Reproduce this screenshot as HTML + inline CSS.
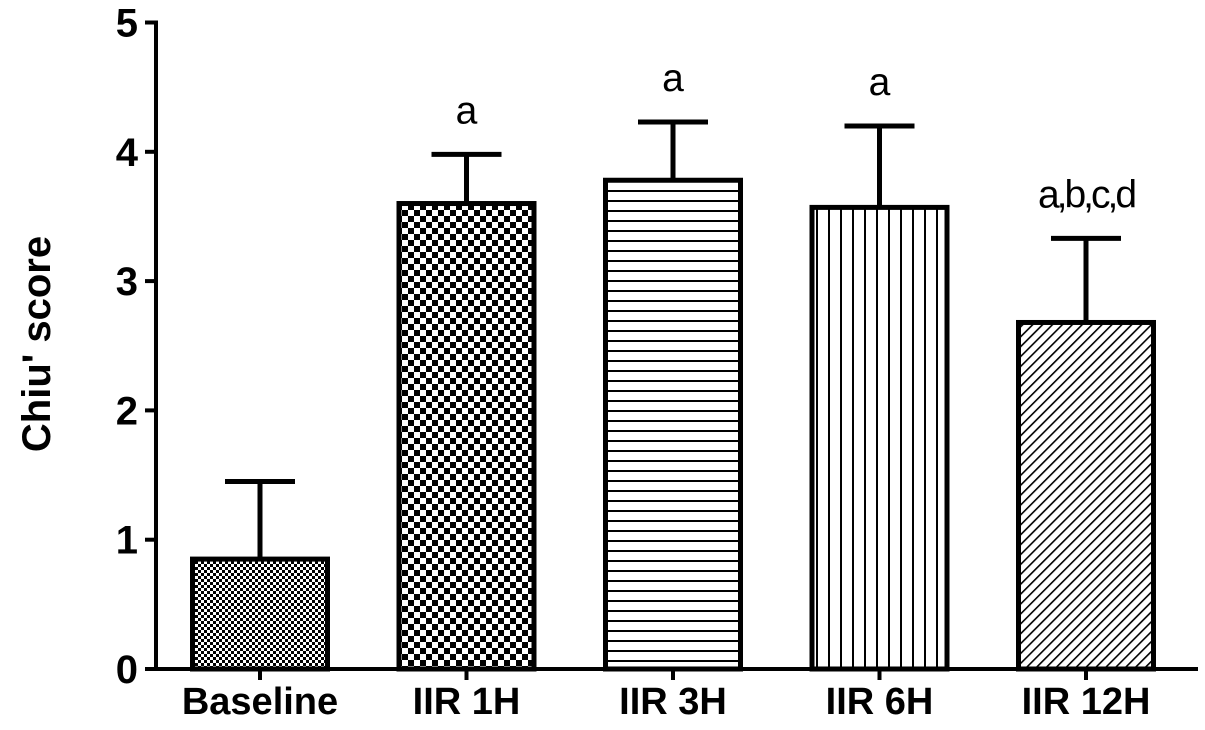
<!DOCTYPE html>
<html><head><meta charset="utf-8"><style>body{margin:0;background:#fff}svg{display:block}</style></head>
<body>
<svg id="chart" width="1205" height="730" xmlns="http://www.w3.org/2000/svg" font-family="'Liberation Sans', sans-serif">
<defs>
<pattern id="p0" width="6" height="6" patternUnits="userSpaceOnUse"><rect width="6" height="6" fill="#fff"/><rect width="3" height="3" fill="#000"/><rect x="3" y="3" width="3" height="3" fill="#000"/></pattern>
<pattern id="p1" width="12" height="12" patternUnits="userSpaceOnUse"><rect width="12" height="12" fill="#fff"/><rect width="6" height="6" fill="#000"/><rect x="6" y="6" width="6" height="6" fill="#000"/></pattern>
<pattern id="p2" width="10" height="10" patternUnits="userSpaceOnUse"><rect width="10" height="10" fill="#fff"/><rect y="0" width="10" height="2" fill="#000"/></pattern>
<pattern id="p3" width="12" height="12" patternUnits="userSpaceOnUse"><rect width="12" height="12" fill="#fff"/><rect x="0" width="2" height="12" fill="#000"/></pattern>
<pattern id="p4" width="7" height="7" patternUnits="userSpaceOnUse" patternTransform="rotate(45)"><rect width="7" height="7" fill="#fff"/><rect width="1.6" height="7" fill="#000"/></pattern>
</defs>
<g id="plot"></g>
</svg>
<script>
const categories = ["Baseline","IIR 1H","IIR 3H","IIR 6H","IIR 12H"];
const means = [0.85, 3.6, 3.78, 3.57, 2.68];
const errors = [0.6, 0.38, 0.45, 0.63, 0.65];
const sigLabels = ["", "a", "a", "a", "a,b,c,d"];
const yTicks = [0,1,2,3,4,5];
const patterns = ["p0","p1","p2","p3","p4"];

const NS = "http://www.w3.org/2000/svg";
const g = document.getElementById('plot');
const y0 = 669, yScale = 129.3;
const yPos = v => y0 - v * yScale;
const x0 = 156, step = 206.5, barW = 140;
const xCenter = i => x0 + 104 + i * step;
function mk(tag, attrs){const e=document.createElementNS(NS,tag);for(const k in attrs)e.setAttribute(k,attrs[k]);g.appendChild(e);return e;}

let ax = mk('line',{x1:x0,y1:yPos(5)-2,x2:x0,y2:y0+2,stroke:'#000','stroke-width':4});


let xa = mk('line',{x1:x0-2,y1:y0,x2:1198,y2:y0,stroke:'#000','stroke-width':4});



yTicks.forEach(t=>{
  const tk = mk('line',{x1:x0-11,y1:yPos(t),x2:x0,y2:yPos(t),stroke:'#000','stroke-width':4});
  
  
  const tl = mk('text',{x:x0-18,y:yPos(t)+14,'text-anchor':'end','font-size':40,'font-weight':'bold'});
  tl.textContent = t;
  
  
});

const yt = mk('text',{x:0,y:0,'text-anchor':'middle','font-size':40,'font-weight':'bold',transform:'translate(50,344) rotate(-90)'});
yt.textContent = "Chiu' score";



categories.forEach((c,i)=>{
  const cx = xCenter(i);
  const top = yPos(means[i]);
  const et = yPos(means[i]+errors[i]);
  const el = mk('line',{x1:cx,y1:top,x2:cx,y2:et,stroke:'#000','stroke-width':5});
  
  
  const ec = mk('line',{x1:cx-35,y1:et,x2:cx+35,y2:et,stroke:'#000','stroke-width':5});
  
  
  const b = mk('rect',{x:cx-barW/2+2.5,y:top,width:barW-5,height:y0-top,fill:'url(#'+patterns[i]+')',stroke:'#000','stroke-width':5});
  
  
  const xt = mk('line',{x1:cx,y1:y0,x2:cx,y2:y0+11,stroke:'#000','stroke-width':4});
  
  
  const xl = mk('text',{x:cx,y:714,'text-anchor':'middle','font-size':38,'font-weight':'bold'});
  xl.textContent = c;
  
  
  if(sigLabels[i]){
    const s = mk('text',{x:cx,y:et-31,'text-anchor':'middle','font-size':39,'letter-spacing':sigLabels[i].length>1?'-3':'0'});
    s.textContent = sigLabels[i];
    
    
  }
});
</script>
</body></html>
